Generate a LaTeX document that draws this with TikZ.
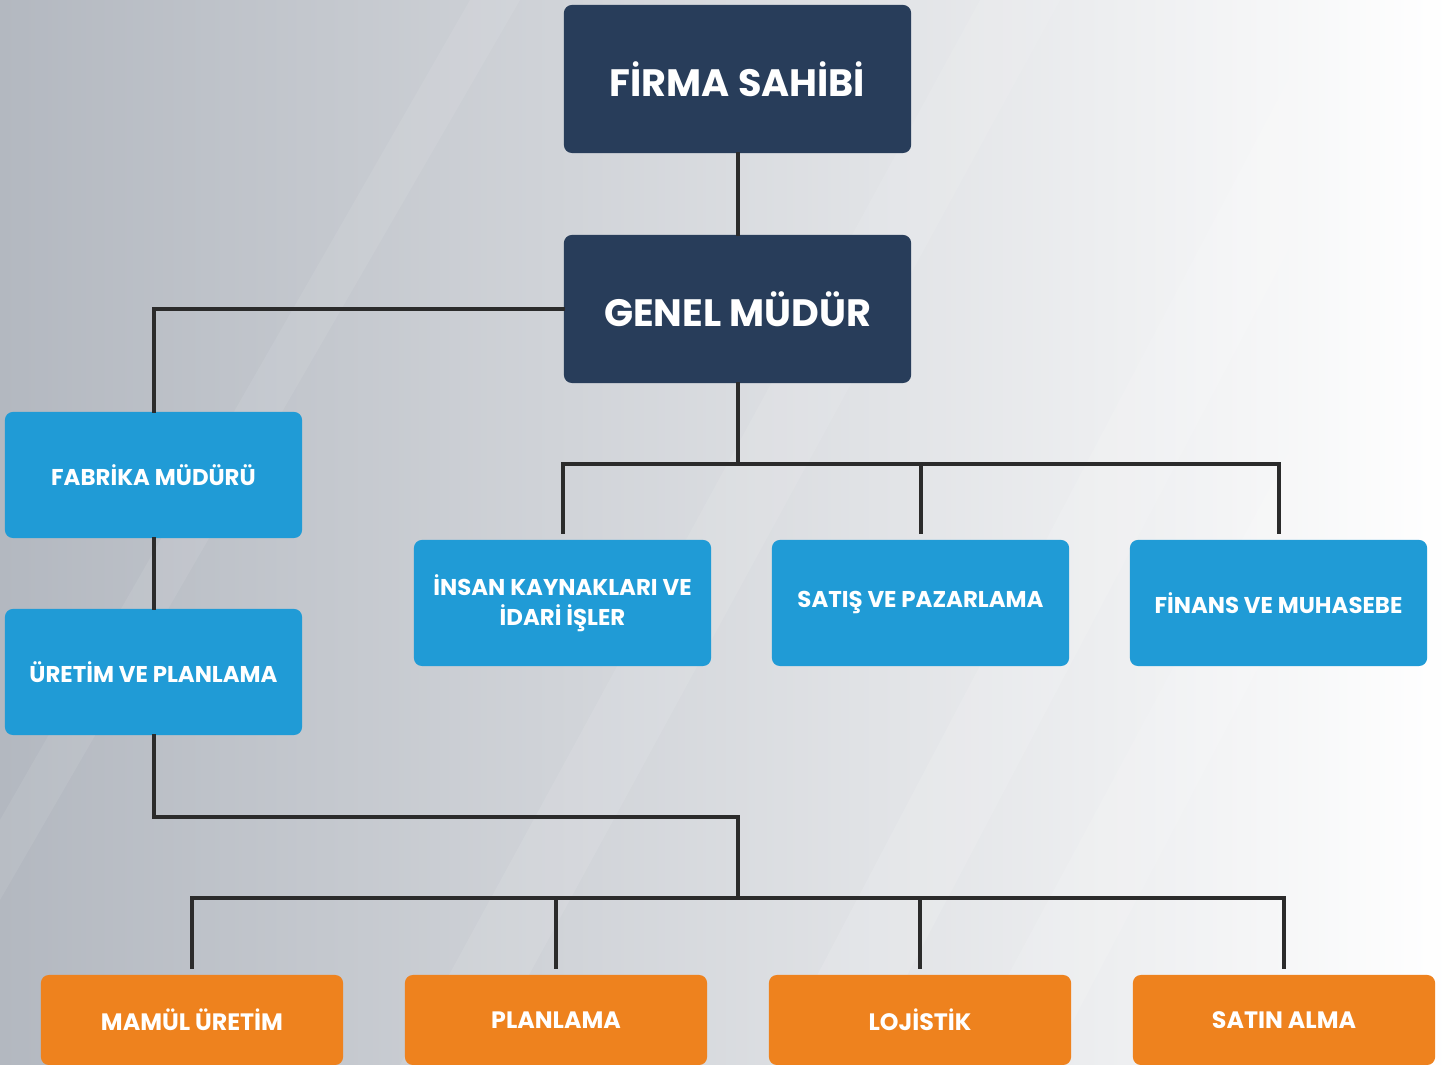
\documentclass[tikz,border=0pt]{standalone}
\usepackage{fontspec}
\newfontfamily\pop{Poppins}
\definecolor{navy}{HTML}{283D5A}
\definecolor{blueb}{HTML}{209BD6}
\definecolor{orangeb}{HTML}{EE821E}
\definecolor{linec}{HTML}{2B2B2B}
\definecolor{bgL}{HTML}{B3B8C0}
\definecolor{bgM}{HTML}{D7DADF}
\begin{document}
\begin{tikzpicture}[x=0.01cm,y=-0.01cm,
  conn/.style={draw=linec, line width=0.04cm, line cap=rect},
  boxbase/.style={rounded corners=0.08cm, text=white, align=center, inner sep=0pt},
  darkbox/.style={boxbase, fill=navy, minimum width=3.47cm, minimum height=1.48cm, font=\pop\bfseries\fontsize{10.85}{12}\selectfont},
  bluebox/.style={boxbase, fill=blueb, minimum width=2.97cm, minimum height=1.26cm, font=\pop\bfseries\fontsize{6.5}{8.6}\selectfont},
  orangebox/.style={boxbase, fill=orangeb, minimum width=3.02cm, minimum height=0.9cm, font=\pop\bfseries\fontsize{6.75}{8.5}\selectfont}]
\useasboundingbox (0,0) rectangle (1451,1065);
\clip (0,0) rectangle (1451,1065);
% background
\shade[left color=bgL, middle color=bgM, right color=white] (0,0) rectangle (1451,1065);
\fill[white, opacity=0.12] (1330,0) -- (1420,0) -- (860,1065) -- (770,1065) -- cycle;
\fill[white, opacity=0.09] (980,0) -- (1060,0) -- (480,1065) -- (400,1065) -- cycle;
\fill[white, opacity=0.08] (470,0) -- (520,0) -- (0,900) -- (0,820) -- cycle;
\fill[white, opacity=0.12] (1451,150) -- (1451,300) -- (1050,1065) -- (960,1065) -- cycle;

% nodes
\node[darkbox] (firma) at (737.5,79) {FİRMA SAHİBİ};
\node[darkbox] (genel) at (737.5,309) {GENEL MÜDÜR};
\node[bluebox] (fab) at (153.5,475) {FABRİKA MÜDÜRÜ};
\node[bluebox] (uret) at (153.5,672) {ÜRETİM VE PLANLAMA};
\node[bluebox] (ik) at (562.5,603) {İNSAN KAYNAKLARI VE\\İDARİ İŞLER};
\node[bluebox] (satis) at (920.5,603) {SATIŞ VE PAZARLAMA};
\node[bluebox] (finans) at (1278.5,603) {FİNANS VE MUHASEBE};
\node[orangebox] (mamul) at (192,1020) {MAMÜL ÜRETİM};
\node[orangebox] (plan) at (556,1020) {PLANLAMA};
\node[orangebox] (loj) at (920,1020) {LOJİSTİK};
\node[orangebox] (satin) at (1284,1020) {SATIN ALMA};

% connectors
\coordinate (bus1) at (737.5,464);
\coordinate (elbow1) at (153.5,309);
\coordinate (elbow2) at (153.5,817);
\coordinate (mid2) at (737.5,817);
\coordinate (bus2) at (737.5,898);

\draw[conn] (firma.south) -- (genel.north);
\draw[conn] (genel.west) -- (elbow1) -- (fab.north);
\draw[conn] (fab.south) -- (uret.north);
\draw[conn] (genel.south) -- (bus1);
\draw[conn] (ik.north |- bus1) -- (finans.north |- bus1);
\draw[conn] (ik.north |- bus1) -- ([yshift=0.07cm]ik.north);
\draw[conn] (satis.north |- bus1) -- ([yshift=0.07cm]satis.north);
\draw[conn] (finans.north |- bus1) -- ([yshift=0.07cm]finans.north);
\draw[conn] (uret.south) -- (elbow2) -- (mid2) -- (bus2);
\draw[conn] (mamul.north |- bus2) -- (satin.north |- bus2);
\draw[conn] (mamul.north |- bus2) -- ([yshift=0.07cm]mamul.north);
\draw[conn] (plan.north |- bus2) -- ([yshift=0.07cm]plan.north);
\draw[conn] (loj.north |- bus2) -- ([yshift=0.07cm]loj.north);
\draw[conn] (satin.north |- bus2) -- ([yshift=0.07cm]satin.north);
\end{tikzpicture}
\end{document}
